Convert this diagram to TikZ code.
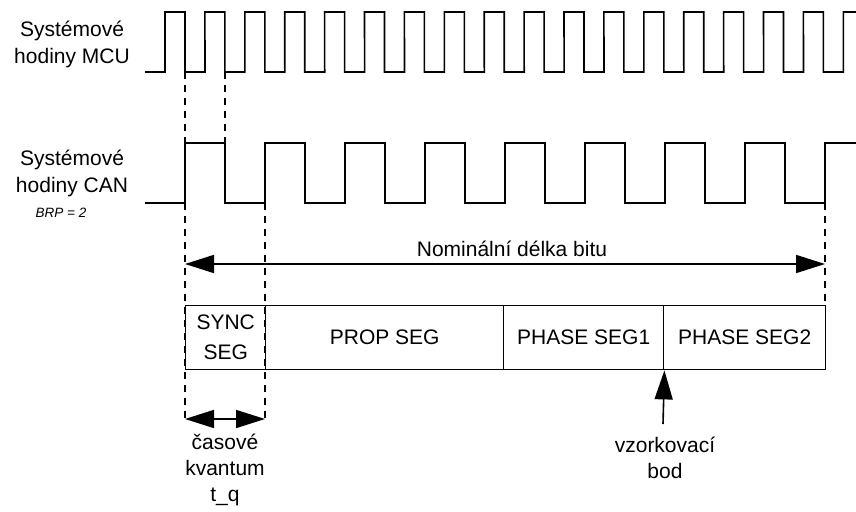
\documentclass[tikz,border=0pt]{standalone}
\usepackage{fontspec}
\setmainfont{Liberation Sans}
\usetikzlibrary{arrows.meta}
\begin{document}
\begin{tikzpicture}[x=1pt,y=-1pt,
  wave/.style={line width=1.6pt,line join=miter},
  guide/.style={line width=1.5pt,dash pattern=on 7pt off 6pt},
  seg/.style={draw,line width=1.4pt,minimum height=64pt,inner sep=0pt,align=center,anchor=north west,font=\fontsize{21}{30}\selectfont},
  lbl/.style={align=center,font=\fontsize{21}{26}\selectfont,inner sep=0pt},
  bigarrow/.style={line width=1.6pt,-{Triangle[length=29pt,width=18pt]}},
  dblarrow/.style={line width=1.6pt,{Triangle[length=29pt,width=18pt]}-{Triangle[length=29pt,width=18pt]}}]
\useasboundingbox (0,0) rectangle (856,511);
\fill[white] (0,0) rectangle (856,511);

% guide dashed lines
\coordinate (m1) at (185,72);
\coordinate (m1b) at (185,143);
\coordinate (m2) at (225,72);
\coordinate (m2b) at (225,143);
\coordinate (c1) at (185,203);
\coordinate (c1b) at (185,421);
\coordinate (c2) at (265,203);
\coordinate (c2b) at (265,421);
\coordinate (c3) at (825,203);
\coordinate (c3b) at (825,305);
\draw[guide] (m1) -- (m1b);
\draw[guide] (m2) -- (m2b);
\draw[guide] (c1) -- (c1b);
\draw[guide] (c2) -- (c2b);
\draw[guide] (c3) -- (c3b);

% MCU clock
\draw[wave] (145,72) -- (165,72)
  foreach \k in {0,...,16} {
    -- ({165+39.9*\k},12) -- ({185+39.9*\k},12) -- ({185+39.9*\k},72) -- ({205+39.9*\k},72)
  } -- (843.3,12) -- (856,12);

% CAN clock
\draw[wave] (145,203) -- (185,203)
  foreach \k in {0,...,7} {
    -- ({185+80*\k},143) -- ({225+80*\k},143) -- ({225+80*\k},203) -- ({265+80*\k},203)
  } -- (825,143) -- (856,143);

% labels
\node[lbl,font=\fontsize{21}{27}\selectfont] (mcu) at (72,44) {Systémové\\hodiny MCU};
\node[lbl,font=\fontsize{21}{27}\selectfont] (can) at (72,173) {Systémové\\hodiny CAN};
\node[inner sep=0pt,font=\fontsize{13.5}{15}\selectfont\itshape] (brp) at (61,213) {BRP = 2};

% nominal bit length
\coordinate (nb1) at (185,264);
\coordinate (nb2) at (825,264);
\draw[dblarrow] (nb1) -- (nb2);
\node[lbl] (nbl) at (512,249) {Nominální délka bitu};

% segments
\node[seg,minimum width=80pt] (sync) at (185,305) {SYNC\\SEG};
\node[seg,minimum width=238pt] (prop) at (265,305) {PROP SEG};
\node[seg,minimum width=160pt] (ph1) at (503,305) {PHASE SEG1};
\node[seg,minimum width=162pt] (ph2) at (663,305) {PHASE SEG2};

% time quantum
\coordinate (tq1) at (185,419);
\coordinate (tq2) at (265,419);
\draw[dblarrow] (tq1) -- (tq2);
\node[lbl] (tql) at (225,470) {časové\\kvantum\\t\_q};

% sample point
\coordinate (sp) at (663,424);
\draw[bigarrow] (sp) -- (ph1.south east);
\node[lbl] (spl) at (665,458) {vzorkovací\\bod};
\end{tikzpicture}
\end{document}
